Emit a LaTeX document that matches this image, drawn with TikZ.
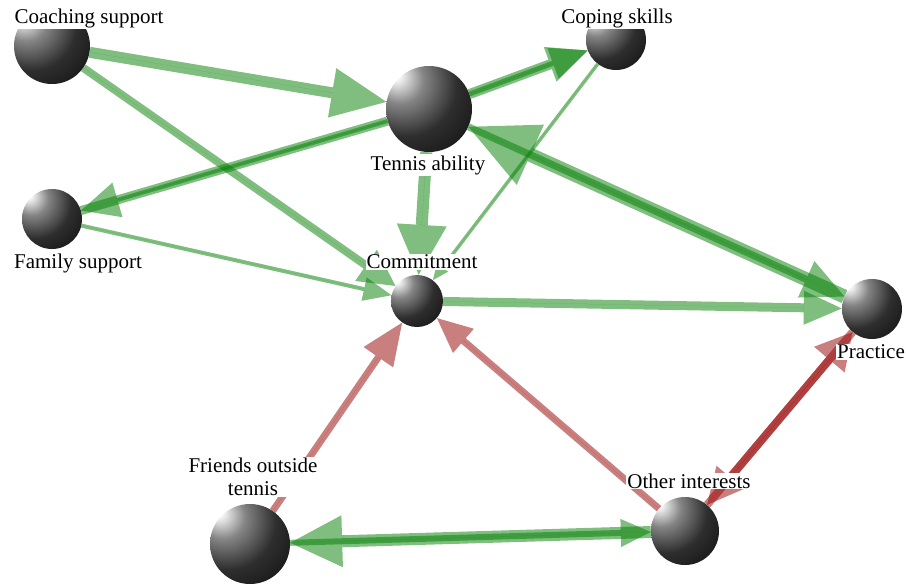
\documentclass[tikz,border=0pt]{standalone}
\usepackage{fontspec}
\setmainfont{Liberation Serif}
\usetikzlibrary{arrows.meta}
\pgfdeclarelayer{edges}
\pgfsetlayers{edges,main}
\pgfdeclareradialshading{sphshade}{\pgfqpoint{-20bp}{20bp}}{color(0bp)=(white); color(3bp)=(white!95!black); color(14bp)=(black!48); color(30bp)=(black!82); color(45bp)=(black!91); color(100bp)=(black!92)}
\definecolor{gbase}{RGB}{0,125,0}
\definecolor{rbase}{RGB}{150,0,0}
\tikzset{
  sph/.style={circle, inner sep=0pt, shading=sphshade},
  gE/.style={draw=gbase, fill=gbase, opacity=0.5},
  rE/.style={draw=rbase, fill=rbase, opacity=0.5},
  lab/.style={fill=white, inner sep=1pt, font=\fontsize{21}{23}\selectfont, align=center},
  tip/.style n args={2}{-{Triangle[length=#1pt,width=#2pt,line width=0pt]}}
}
\begin{document}
\begin{tikzpicture}[x=1pt,y=-1pt]
\useasboundingbox (0,0) rectangle (906,584);
% spheres
\node[sph, minimum size=76pt] (coach) at (52,46) {};
\node[sph, minimum size=60pt] (coping) at (616,40) {};
\node[sph, minimum size=86pt] (tennis) at (429,109) {};
\node[sph, minimum size=60pt] (family) at (52,219) {};
\node[sph, minimum size=52pt] (commit) at (417,301) {};
\node[sph, minimum size=60pt] (practice) at (872,309) {};
\node[sph, minimum size=80pt] (friends) at (250,544) {};
\node[sph, minimum size=68pt] (other) at (685,531) {};
% connectors
\begin{pgfonlayer}{edges}
\draw[gE, line width=11pt, tip={55}{50}] (coach) -- (tennis);
\draw[gE, line width=8pt, tip={36}{38}] (coach) -- (commit);
\draw[gE, line width=12pt, tip={50}{50}] (tennis) -- (commit);
\draw[gE, line width=9pt] (tennis) -- (family);
\draw[gE, line width=4pt, tip={38}{36}] (tennis) -- (family);
\draw[gE, line width=10pt, tip={40}{37}] (tennis) -- (coping);
\draw[gE, line width=5pt, tip={37}{33}] (tennis) -- (coping);
\draw[gE, line width=3.5pt, tip={16}{14}] (coping) -- (commit);
\draw[gE, line width=14pt, tip={68}{66}] (practice) -- (tennis);
\draw[gE, line width=7pt, tip={42}{40}] (tennis) -- (practice);
\draw[gE, line width=4pt, tip={28}{24}] (family) -- (commit);
\draw[gE, line width=9pt, tip={38}{34}] (commit) -- (practice);
\draw[rE, line width=7pt, tip={42}{36}] (friends) -- (commit);
\draw[rE, line width=7pt, tip={35}{32}] (other) -- (commit);
\draw[rE, line width=8pt, tip={36}{40}] (other) -- (practice);
\draw[rE, line width=8pt, tip={36}{36}] (practice) -- (other);
\draw[gE, line width=12pt, tip={52}{52}] (other) -- (friends);
\draw[gE, line width=6pt, tip={30}{28}] (friends) -- (other);
\end{pgfonlayer}
% labels
\node[lab] (lcoach) at (89,18) {Coaching support};
\node[lab] (lcoping) at (617,18) {Coping skills};
\node[lab] (ltennis) at (428,165) {Tennis ability};
\node[lab] (lfamily) at (78,263) {Family support};
\node[lab] (lcommit) at (422,262) {Commitment};
\node[lab] (lpractice) at (871,352) {Practice};
\node[lab] (lfriends) at (253,477) {Friends outside\\tennis};
\node[lab] (lother) at (689,481) {Other interests};
\end{tikzpicture}
\end{document}
